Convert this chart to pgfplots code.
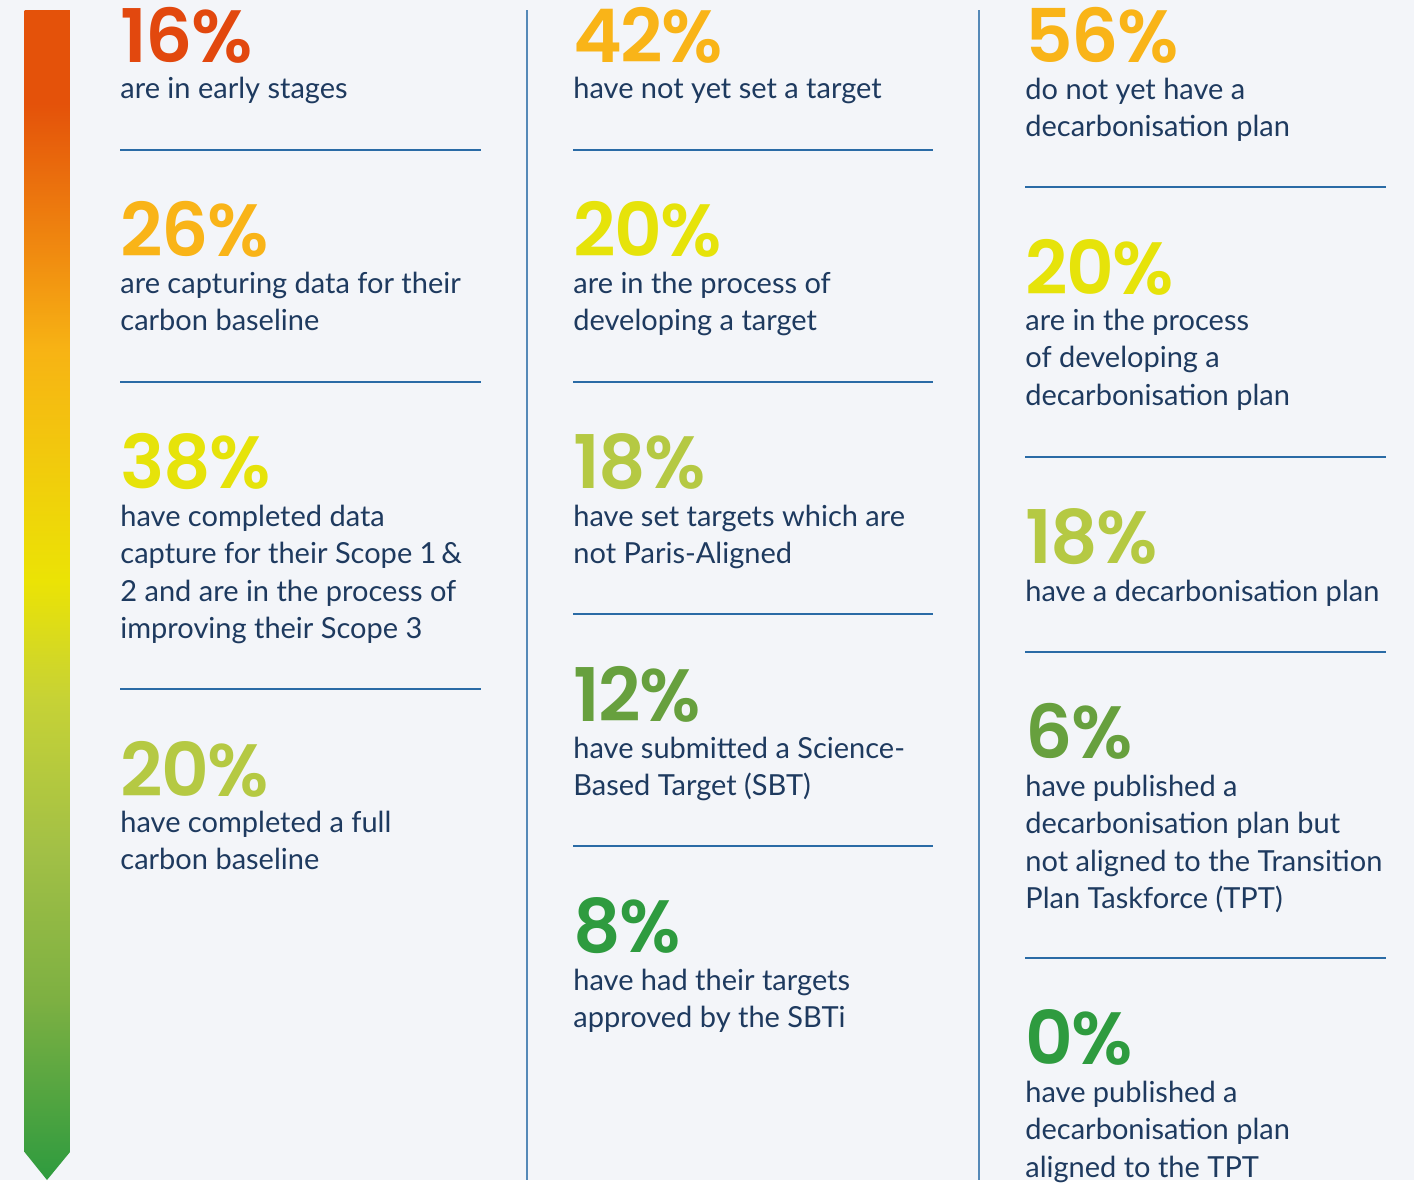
\documentclass[border=0pt]{standalone}
\usepackage{fontspec}
\setmainfont{Lato}
\IfFontExistsTF{Poppins SemiBold}
  {\newfontfamily\numfont{Poppins SemiBold}[LetterSpace=-2]}
  {\newfontfamily\numfont{Poppins}[UprightFont=*-Bold, LetterSpace=-3]}
\usepackage{pgfplots}
\pgfplotsset{compat=1.18}

\definecolor{bg}{HTML}{F3F5F9}
\definecolor{navy}{HTML}{1E3A5F}
\definecolor{rule}{HTML}{2A6BA6}
\definecolor{cRed}{HTML}{E2480E}
\definecolor{cAmber}{HTML}{F9B418}
\definecolor{cYellow}{HTML}{E6E30A}
\definecolor{cLime}{HTML}{B5C943}
\definecolor{cGreen}{HTML}{67A03E}
\definecolor{cDark}{HTML}{2E9B3F}
% arrow gradient stops
\definecolor{g1}{HTML}{E4520A}
\definecolor{g2}{HTML}{F08A10}
\definecolor{g3}{HTML}{F7B314}
\definecolor{g4}{HTML}{EBE305}
\definecolor{g5}{HTML}{C6D236}
\definecolor{g6}{HTML}{A2C046}
\definecolor{g7}{HTML}{7DB042}
\definecolor{g8}{HTML}{2E9B3F}
\pgfdeclareverticalshading{arrowgrad}{100bp}{%
  color(0bp)=(g8); color(25bp)=(g8); color(32.7bp)=(g7); color(39.1bp)=(g6);
  color(45.5bp)=(g5); color(50.6bp)=(g4); color(60.5bp)=(g3); color(64.7bp)=(g2);
  color(71bp)=(g1); color(75bp)=(g1); color(100bp)=(g1)}

\tikzset{
  desc/.style={anchor=north west, inner sep=0pt, align=left, text=navy,
    font=\fontsize{14.5}{18.75}\selectfont},
  sep/.style={draw=rule, line width=0.65pt},
}
\pgfplotsset{
  share/.style={draw=none, mark=none, point meta=explicit symbolic,
    nodes near coords={\pgfplotspointmeta\%},
    nodes near coords style={anchor=base west, inner sep=0pt, text=#1,
      text depth=0pt, font=\numfont\fontsize{37}{37}\selectfont}},
}
% description: x, first baseline (pixels from top), text; strut height = 26.25 px
\newcommand\desc[3]{\node[desc] at (axis cs:#1,{#2-26.25}) {\strut #3};}

\begin{document}
\begin{tikzpicture}
\begin{axis}[
  width=707pt, height=590pt, scale only axis,
  xmin=0, xmax=1414, ymin=0, ymax=1180, y dir=reverse,
  axis line style={draw=none}, ticks=none, clip=false,
  axis background/.style={fill=bg},
]
% gradient arrow
\shade[shading=arrowgrad] (axis cs:24.5,10) -- (axis cs:70,10) -- (axis cs:70,1152)
  -- (axis cs:47,1180) -- (axis cs:24.5,1152) -- cycle;
% column dividers
\draw[draw=rule!80, line width=0.8pt] (axis cs:527,10) -- (axis cs:527,1180);
\draw[draw=rule!80, line width=0.8pt] (axis cs:979,10) -- (axis cs:979,1180);
% row separators
\draw[sep] (axis cs:120,150) -- (axis cs:481,150);
\draw[sep] (axis cs:120,382) -- (axis cs:481,382);
\draw[sep] (axis cs:120,689) -- (axis cs:481,689);
\draw[sep] (axis cs:573,150) -- (axis cs:933,150);
\draw[sep] (axis cs:573,382) -- (axis cs:933,382);
\draw[sep] (axis cs:573,614) -- (axis cs:933,614);
\draw[sep] (axis cs:573,846) -- (axis cs:933,846);
\draw[sep] (axis cs:1025,187) -- (axis cs:1386,187);
\draw[sep] (axis cs:1025,457) -- (axis cs:1386,457);
\draw[sep] (axis cs:1025,652) -- (axis cs:1386,652);
\draw[sep] (axis cs:1025,958) -- (axis cs:1386,958);

% the shares: (x, baseline) [percent]
\addplot[share=cRed]    coordinates {(120,62) [16]};
\addplot[share=cAmber]  coordinates {(120,256) [26] (573,62) [42] (1025,62) [56]};
\addplot[share=cYellow] coordinates {(120,488) [38] (573,256) [20] (1025,294) [20]};
\addplot[share=cLime]   coordinates {(120,796) [20] (573,488) [18] (1025,563) [18]};
\addplot[share=cGreen]  coordinates {(573,721) [12] (1025,758) [6]};
\addplot[share=cDark]   coordinates {(573,952) [8] (1025,1064) [0]};

% descriptions
\desc{120}{98}{are in early stages}
\desc{120}{293}{are capturing data for their\\carbon baseline}
\desc{120}{526}{have completed data\\capture for their Scope 1\,\&\\2 and are in the process of\\improving their Scope 3}
\desc{120}{832}{have completed a full\\carbon baseline}
\desc{573}{98}{have not yet set a target}
\desc{573}{293}{are in the process of\\developing a target}
\desc{573}{526}{have set targets which are\\not Paris-Aligned}
\desc{573}{758}{have submitted a Science-\\Based Target (SBT)}
\desc{573}{990}{have had their targets\\approved by the SBTi}
\desc{1025}{99}{do not yet have a\\decarbonisation plan}
\desc{1025}{330}{are in the process\\of developing a\\decarbonisation plan}
\desc{1025}{601}{have a decarbonisation plan}
\desc{1025}{796}{have published a\\decarbonisation plan but\\not aligned to the Transition\\Plan Taskforce (TPT)}
\desc{1025}{1102}{have published a\\decarbonisation plan\\aligned to the TPT}
\end{axis}
\end{tikzpicture}
\end{document}
